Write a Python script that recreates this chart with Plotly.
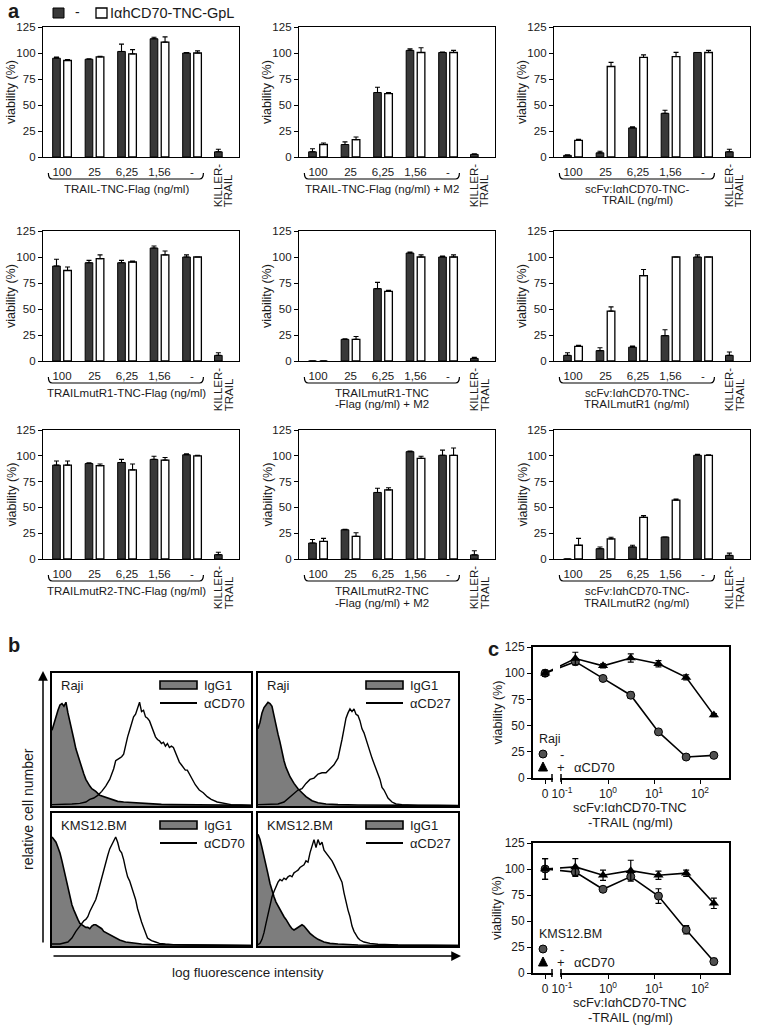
import plotly.graph_objects as go

W, H = 757, 1027
FONT = "Liberation Sans, Arial, Helvetica, sans-serif"
TXT = "#1a1a1a"
DARK = "#383838"
GREY = "#7d7d7d"


def px(x):
    return x / W


def py(y):
    return 1 - y / H


# ---------------- panel a data ----------------
CATS = ["100", "25", "6,25", "1,56", "-"]
Y_TICKS = [0, 25, 50, 75, 100, 125]
KILLER_TEXT = ["KILLER-", "TRAIL"]
LEGEND_A = ["-", "IαhCD70-TNC-GpL"]

R1C1_DARK = [95, 94, 101.5, 113.7, 100]
R1C1_DARK_ERR = [1, 0.5, 7, 1.5, 0.5]
R1C1_WHITE = [92.8, 96.3, 99.2, 110.5, 100]
R1C1_WHITE_ERR = [1, 0.5, 4, 5, 2]
R1C1_KILLER = [5]
R1C1_KILLER_ERR = [2.5]
R1C1_SUB = ["TRAIL-TNC-Flag (ng/ml)"]

R1C2_DARK = [5, 12, 62, 102.5, 100.5]
R1C2_DARK_ERR = [3, 2.5, 5, 1.5, 0.5]
R1C2_WHITE = [12, 16.7, 61, 100.5, 100.5]
R1C2_WHITE_ERR = [1.5, 2.6, 1, 4.5, 2]
R1C2_KILLER = [2.5]
R1C2_KILLER_ERR = [0.5]
R1C2_SUB = ["TRAIL-TNC-Flag (ng/ml) + M2"]

R1C3_DARK = [1.6, 4, 28, 42, 100.5]
R1C3_DARK_ERR = [0.5, 1.5, 1, 3, 0]
R1C3_WHITE = [16, 87, 95.7, 96.6, 100.5]
R1C3_WHITE_ERR = [1, 4, 2.5, 4, 2]
R1C3_KILLER = [5]
R1C3_KILLER_ERR = [2.5]
R1C3_SUB = ["scFv:IαhCD70-TNC-", "TRAIL (ng/ml)"]

R2C1_DARK = [91.3, 94.5, 94.5, 108.6, 100]
R2C1_DARK_ERR = [6.5, 2.3, 2.3, 2, 2]
R2C1_WHITE = [87, 98.4, 95.2, 102, 100]
R2C1_WHITE_ERR = [3.4, 3.6, 0.8, 3.8, 0]
R2C1_KILLER = [5.4]
R2C1_KILLER_ERR = [2.6]
R2C1_SUB = ["TRAILmutR1-TNC-Flag (ng/ml)"]

R2C2_DARK = [0, 20.8, 69.6, 103.8, 100]
R2C2_DARK_ERR = [0, 0.6, 6, 1, 1]
R2C2_WHITE = [0, 20.8, 67, 100, 100]
R2C2_WHITE_ERR = [0, 2.8, 1, 2, 2]
R2C2_KILLER = [2.5]
R2C2_KILLER_ERR = [1]
R2C2_SUB = ["TRAILmutR1-TNC", "-Flag (ng/ml) + M2"]

R2C3_DARK = [5.4, 10, 13.3, 24.4, 100]
R2C3_DARK_ERR = [2.6, 2.7, 1, 5.6, 2]
R2C3_WHITE = [14, 48, 82, 100, 100]
R2C3_WHITE_ERR = [1, 4, 6, 0, 0]
R2C3_KILLER = [5.4]
R2C3_KILLER_ERR = [3.2]
R2C3_SUB = ["scFv:IαhCD70-TNC-", "TRAILmutR1 (ng/ml)"]

R3C1_DARK = [91, 92.5, 93.5, 96.5, 101]
R3C1_DARK_ERR = [4, 0.8, 3, 3, 1]
R3C1_WHITE = [91, 90.5, 86.4, 95.8, 100]
R3C1_WHITE_ERR = [4, 1.5, 5.6, 2.5, 0.5]
R3C1_KILLER = [4.2]
R3C1_KILLER_ERR = [2.3]
R3C1_SUB = ["TRAILmutR2-TNC-Flag (ng/ml)"]

R3C2_DARK = [15.5, 28.3, 64.5, 104, 100.5]
R3C2_DARK_ERR = [3.4, 0.6, 4, 0.5, 5]
R3C2_WHITE = [17, 22, 67, 97.5, 100.5]
R3C2_WHITE_ERR = [3, 3.4, 2, 2, 7]
R3C2_KILLER = [4]
R3C2_KILLER_ERR = [4]
R3C2_SUB = ["TRAILmutR2-TNC", "-Flag (ng/ml) + M2"]

R3C3_DARK = [0, 10, 11.7, 21.3, 100.5]
R3C3_DARK_ERR = [0, 1.7, 1.6, 0, 1]
R3C3_WHITE = [13.3, 19.5, 40.3, 57, 100.5]
R3C3_WHITE_ERR = [6.7, 1.6, 1.7, 1, 0.5]
R3C3_KILLER = [3.5]
R3C3_KILLER_ERR = [2.2]
R3C3_SUB = ["scFv:IαhCD70-TNC-", "TRAILmutR2 (ng/ml)"]

A_PANELS = [
    (R1C1_DARK, R1C1_DARK_ERR, R1C1_WHITE, R1C1_WHITE_ERR, R1C1_KILLER, R1C1_KILLER_ERR, R1C1_SUB),
    (R1C2_DARK, R1C2_DARK_ERR, R1C2_WHITE, R1C2_WHITE_ERR, R1C2_KILLER, R1C2_KILLER_ERR, R1C2_SUB),
    (R1C3_DARK, R1C3_DARK_ERR, R1C3_WHITE, R1C3_WHITE_ERR, R1C3_KILLER, R1C3_KILLER_ERR, R1C3_SUB),
    (R2C1_DARK, R2C1_DARK_ERR, R2C1_WHITE, R2C1_WHITE_ERR, R2C1_KILLER, R2C1_KILLER_ERR, R2C1_SUB),
    (R2C2_DARK, R2C2_DARK_ERR, R2C2_WHITE, R2C2_WHITE_ERR, R2C2_KILLER, R2C2_KILLER_ERR, R2C2_SUB),
    (R2C3_DARK, R2C3_DARK_ERR, R2C3_WHITE, R2C3_WHITE_ERR, R2C3_KILLER, R2C3_KILLER_ERR, R2C3_SUB),
    (R3C1_DARK, R3C1_DARK_ERR, R3C1_WHITE, R3C1_WHITE_ERR, R3C1_KILLER, R3C1_KILLER_ERR, R3C1_SUB),
    (R3C2_DARK, R3C2_DARK_ERR, R3C2_WHITE, R3C2_WHITE_ERR, R3C2_KILLER, R3C2_KILLER_ERR, R3C2_SUB),
    (R3C3_DARK, R3C3_DARK_ERR, R3C3_WHITE, R3C3_WHITE_ERR, R3C3_KILLER, R3C3_KILLER_ERR, R3C3_SUB),
]

# ---------------- panel b data (x: % of log-fluorescence axis, y: % of box height) ----------------
TL_IGG = [(0, 57), (1, 62), (2, 68), (3, 72), (4, 76), (5, 77), (6, 75), (7, 78), (8, 70), (9, 64), (10, 58),
          (11, 50), (12, 43), (13, 38), (14, 33), (15, 28), (16, 24), (17, 20), (18, 17), (19, 15), (20, 13),
          (22, 11), (24, 8), (26, 7), (28, 6), (30, 5), (33, 3.5), (36, 3), (40, 2.5), (45, 2), (50, 1.5),
          (55, 1.2), (60, 1), (70, 0.8), (80, 0.6), (90, 0.5), (100, 0.5)]
TL_CD70 = [(0, 1), (5, 1), (10, 1.5), (14, 2), (17, 3), (19, 5), (21, 6), (23, 8), (25, 11), (27, 15), (29, 20),
           (31, 28), (32, 34), (34, 36), (35, 37), (36, 39), (37, 46), (38, 52), (39, 57), (40, 63), (41, 67),
           (42, 69), (43, 73), (44, 78), (45, 71), (46, 72), (47, 67), (48, 66), (49, 64), (50, 60), (51, 57),
           (52, 52), (53, 50), (54, 49), (55, 47), (56, 48), (57, 45), (58, 47), (59, 44), (60, 45), (61, 44),
           (62, 40), (63, 36), (64, 33), (65, 31), (66, 29), (67, 27), (68, 27), (69, 24), (70, 22), (72, 16),
           (74, 12), (76, 10), (78, 7), (80, 5), (83, 3), (86, 2), (90, 1), (95, 0.7), (100, 0.5)]
TR_IGG = [(0, 58), (1, 63), (2, 70), (3, 74), (4, 76), (5, 78), (6, 77), (7, 75), (8, 68), (9, 60), (10, 54),
          (11, 48), (12, 40), (13, 34), (14, 29), (16, 22), (18, 17), (20, 13), (22, 10), (24, 7), (27, 4),
          (30, 2.5), (34, 1.5), (40, 1), (50, 0.8), (60, 0.6), (80, 0.5), (100, 0.4)]
TR_CD27 = [(0, 1), (5, 1), (10, 1.5), (13, 3), (16, 7), (18, 9), (20, 12), (22, 13), (24, 17), (26, 20), (28, 21),
           (30, 24), (32, 25), (34, 25), (36, 28), (38, 31), (40, 36), (41, 42), (42, 50), (43, 58), (44, 66),
           (45, 70), (46, 73), (47, 71), (48, 73), (49, 69), (50, 68), (51, 64), (52, 58), (53, 55), (54, 50),
           (55, 46), (56, 40), (57, 36), (58, 32), (59, 28), (60, 25), (61, 20), (62, 14), (63, 12), (64, 9),
           (65, 6), (67, 3), (69, 1.5), (72, 1), (76, 0.7), (80, 0.5), (90, 0.4), (100, 0.3)]
BL_IGG = [(0, 82), (1, 80), (2, 78), (3, 74), (4, 70), (5, 64), (6, 57), (7, 50), (8, 44), (9, 37), (10, 31),
          (11, 27), (12, 23), (13, 20), (14, 17), (15, 16), (16, 15), (17, 14), (18, 14), (19, 13), (20, 15),
          (21, 16), (22, 16), (23, 15), (24, 14), (25, 13), (26, 11), (28, 9.5), (30, 8), (32, 6), (34, 4.5),
          (37, 3), (41, 2), (45, 1.5), (50, 1), (60, 0.8), (80, 0.5), (100, 0.4)]
BL_CD70 = [(0, 1.5), (4, 1.5), (8, 3), (10, 6), (12, 11), (14, 15), (16, 19), (17, 20), (18, 22), (19, 26),
           (20, 29), (21, 32), (22, 35), (23, 40), (24, 46), (25, 52), (26, 57), (27, 62), (28, 68), (29, 73),
           (30, 76), (31, 79), (32, 82), (33, 78), (34, 72), (35, 70), (36, 65), (37, 58), (38, 52), (39, 49),
           (40, 44), (41, 40), (42, 35), (43, 28), (44, 22), (45, 18), (46, 14), (47, 10), (48, 6), (49, 5),
           (50, 4), (52, 3), (54, 2), (57, 1.5), (61, 1), (70, 0.7), (80, 0.5), (100, 0.4)]
BR_IGG = [(0, 84), (1, 80), (2, 74), (3, 68), (4, 60), (5, 54), (6, 47), (7, 41), (8, 37), (9, 33), (10, 30),
          (11, 27), (12, 24), (13, 22), (14, 20), (15, 17), (16, 15), (17, 13), (18, 12), (19, 13), (20, 14),
          (21, 15), (22, 16), (23, 15), (24, 13), (25, 11), (26, 9.5), (28, 7), (30, 5), (33, 3), (36, 2),
          (40, 1.5), (45, 1), (50, 0.8), (60, 0.6), (80, 0.5), (100, 0.4)]
BR_CD27 = [(0, 1), (1, 2), (2, 5), (3, 10), (4, 17), (5, 24), (6, 31), (7, 37), (8, 41), (9, 45), (10, 48),
           (11, 50), (12, 49), (13, 51), (14, 50), (15, 52), (16, 53), (17, 52), (18, 55), (19, 56), (20, 57),
           (21, 59), (22, 60), (23, 61), (24, 64), (25, 63), (26, 70), (27, 75), (28, 80), (29, 74), (30, 80),
           (31, 76), (32, 78), (33, 72), (34, 70), (35, 68), (36, 66), (37, 64), (38, 61), (39, 58), (40, 55),
           (41, 52), (42, 48), (43, 40), (44, 32), (45, 27), (46, 22), (47, 15), (48, 11), (49, 8), (50, 6),
           (51, 4.5), (53, 3), (56, 2), (60, 1.3), (70, 0.8), (80, 0.5), (100, 0.4)]
B_PANELS = [
    ("Raji", "αCD70", TL_IGG, TL_CD70),
    ("Raji", "αCD27", TR_IGG, TR_CD27),
    ("KMS12.BM", "αCD70", BL_IGG, BL_CD70),
    ("KMS12.BM", "αCD27", BR_IGG, BR_CD27),
]

# ---------------- panel c data ----------------
C_CONC = [0, 0.195, 0.78, 3.125, 12.5, 50, 200]
ZERO_STAND_IN = 0.043  # where "0" sits on the log axis
C_TICK_VALS = [ZERO_STAND_IN, 0.1, 1, 10, 100]
C_TICK_TEXT = ["0", "10<sup>-1</sup>", "10<sup>0</sup>", "10<sup>1</sup>", "10<sup>2</sup>"]
RAJI_MINUS = [100, 111, 95, 79, 44, 20, 21.6]
RAJI_MINUS_ERR = [2, 2, 1.5, 3, 2, 1, 1]
RAJI_PLUS = [100, 114, 107, 114.5, 109, 96, 60]
RAJI_PLUS_ERR = [3, 6, 2, 4, 3, 2.5, 1.5]
KMS_MINUS = [100, 97, 80.5, 92.7, 74, 41.5, 11]
KMS_MINUS_ERR = [10, 4, 2, 3, 7, 4, 3]
KMS_PLUS = [100, 102, 94, 98.4, 94, 96, 67]
KMS_PLUS_ERR = [10, 8, 5, 10, 4, 3, 5]
C_PANELS = [
    ("Raji", RAJI_MINUS, RAJI_MINUS_ERR, RAJI_PLUS, RAJI_PLUS_ERR),
    ("KMS12.BM", KMS_MINUS, KMS_MINUS_ERR, KMS_PLUS, KMS_PLUS_ERR),
]
C_XTITLE = ["scFv:IαhCD70-TNC", "-TRAIL (ng/ml)"]

# ---------------- build ----------------
fig = go.Figure()
layout = {}
shapes, annos = [], []
n_axes = [0]


def add_axes(x0, x1, y0, y1, xa, ya):
    n_axes[0] += 1
    n = n_axes[0]
    sfx = "" if n == 1 else str(n)
    layout["xaxis" + sfx] = dict(xa, domain=[px(x0), px(x1)], anchor="y" + sfx)
    layout["yaxis" + sfx] = dict(ya, domain=[py(y1), py(y0)], anchor="x" + sfx)
    return "x" + sfx, "y" + sfx


def text(x, y, s, size=12, xanchor="center", yanchor="middle", angle=0, xref="paper", yref="paper", bold=False):
    annos.append(dict(x=x, y=y, xref=xref, yref=yref, text=f"<b>{s}</b>" if bold else s, showarrow=False,
                      xanchor=xanchor, yanchor=yanchor, textangle=angle, borderpad=0,
                      font=dict(family=FONT, size=size, color=TXT)))


def err_up(e):
    return dict(type="data", array=e, arrayminus=[0] * len(e), symmetric=False, color="black",
                thickness=1.1, width=2.5)


def pline(x0, y0, x1, y1, w=1.5):
    shapes.append(dict(type="line", xref="paper", yref="paper", x0=px(x0), y0=py(y0), x1=px(x1), y1=py(y1),
                       line=dict(color="black", width=w), layer="above"))


def prect(x0, y0, x1, y1, fill, w=1.2):
    shapes.append(dict(type="rect", xref="paper", yref="paper", x0=px(x0), y0=py(y1), x1=px(x1), y1=py(y0),
                       fillcolor=fill, line=dict(color="black", width=w), layer="above"))


# ----- panel a -----
COL_L = [43, 299, 554]
COL_W = 196
ROW_T = [27, 231, 430]
ROW_B = [157, 361, 559]
GROUP_POS = [0, 1, 2, 3, 4]
KILLER_POS = 4.81
OFF = 0.17
BAR_W = 0.235
XR_A = [-0.585, 5.445]

for k, (dark, dark_e, white, white_e, kil, kil_e, sub) in enumerate(A_PANELS):
    r, c = divmod(k, 3)
    x0 = COL_L[c]
    x1 = x0 + COL_W
    y0, y1 = ROW_T[r], ROW_B[r]
    xa = dict(range=XR_A, showline=True, mirror=True, linecolor="black", linewidth=1.3, showgrid=False,
              zeroline=False, tickmode="array", tickvals=GROUP_POS, ticktext=CATS, ticks="",
              ticklabelstandoff=4, tickfont=dict(family=FONT, size=11.5, color=TXT))
    ya = dict(range=[0, 125], tickmode="array", tickvals=Y_TICKS, ticks="outside", ticklen=4, tickwidth=1.1,
              tickcolor="black", showline=True, mirror=True, linecolor="black", linewidth=1.3, showgrid=False,
              zeroline=False, tickfont=dict(family=FONT, size=11.5, color=TXT))
    xr, yr = add_axes(x0, x1, y0, y1, xa, ya)
    fig.add_trace(go.Bar(x=[p - OFF for p in GROUP_POS], y=dark, width=BAR_W,
                         marker=dict(color=DARK, line=dict(color="black", width=1)),
                         error_y=err_up(dark_e), xaxis=xr, yaxis=yr))
    fig.add_trace(go.Bar(x=[p + OFF for p in GROUP_POS], y=white, width=BAR_W,
                         marker=dict(color="white", line=dict(color="black", width=1.3)),
                         error_y=err_up(white_e), xaxis=xr, yaxis=yr))
    fig.add_trace(go.Bar(x=[KILLER_POS], y=kil, width=BAR_W,
                         marker=dict(color=DARK, line=dict(color="black", width=1)),
                         error_y=err_up(kil_e), xaxis=xr, yaxis=yr))
    text(px(x0 - 32), py((y0 + y1) / 2), "viability (%)", size=12.5, angle=-90)
    yb, yt = py(y1 + 22), py(y1 + 16)
    xa_, xb_ = -0.42, 4.35
    shapes.append(dict(type="path", xref=xr, yref="paper",
                       path=f"M {xa_},{yt} Q {xa_},{yb} {xa_ + 0.12},{yb} L {xb_ - 0.12},{yb} Q {xb_},{yb} {xb_},{yt}",
                       line=dict(color="black", width=1.2)))
    for i, line in enumerate(sub):
        text(1.97, py(y1 + 32 + 11.5 * i), line, size=11.5, xref=xr)
    text(KILLER_POS, py(y1 + 51), KILLER_TEXT[0], size=11.5, angle=-90, xref=xr, yanchor="bottom")
    text(KILLER_POS + 0.32, py(y1 + 51), KILLER_TEXT[1], size=11.5, angle=-90, xref=xr, yanchor="bottom")

text(px(14), py(11), "a", size=20, bold=True)
prect(53, 8, 64, 18, DARK, 1)
text(px(77), py(12), LEGEND_A[0], size=14)
prect(96, 8, 107, 18, "white", 1.3)
text(px(109), py(13), LEGEND_A[1], size=14.5, xanchor="left")

# ----- panel b -----
B_COLS = [(52, 251), (258, 458)]
B_ROWS = [(673, 806), (813, 946)]
for k, (cell, ab, igg, cd) in enumerate(B_PANELS):
    r, c = divmod(k, 2)
    x0, x1 = B_COLS[c]
    y0, y1 = B_ROWS[r]
    ax = dict(range=[0, 100], showline=True, mirror=True, linecolor="black", linewidth=2.2, showgrid=False,
              zeroline=False, showticklabels=False, ticks="")
    xr, yr = add_axes(x0, x1, y0, y1, ax, dict(ax))
    fig.add_trace(go.Scatter(x=[p[0] for p in igg], y=[p[1] for p in igg], mode="lines", fill="tozeroy",
                             fillcolor=GREY, line=dict(color="black", width=1.6), xaxis=xr, yaxis=yr))
    fig.add_trace(go.Scatter(x=[p[0] for p in cd], y=[p[1] for p in cd], mode="lines",
                             line=dict(color="black", width=1.4), xaxis=xr, yaxis=yr))
    text(px(x0 + 8), py(y0 + 12), cell, size=13, xanchor="left")
    prect(x0 + 108, y0 + 8, x0 + 145, y0 + 16, GREY, 1.6)
    text(px(x0 + 151), py(y0 + 12), "IgG1", size=13, xanchor="left")
    pline(x0 + 108, y0 + 30, x0 + 145, y0 + 30, 2)
    text(px(x0 + 151), py(y0 + 30), ab, size=13, xanchor="left")

text(px(14), py(645), "b", size=20, bold=True)
annos.append(dict(x=px(43), y=py(671), xref="paper", yref="paper", ax=0, ay=273, text="", showarrow=True,
                  arrowhead=2, arrowsize=1.3, arrowwidth=1.5, arrowcolor="black"))
annos.append(dict(x=px(461), y=py(956), xref="paper", yref="paper", ax=-409, ay=0, text="", showarrow=True,
                  arrowhead=2, arrowsize=1.3, arrowwidth=1.5, arrowcolor="black"))
text(px(28), py(809), "relative cell number", size=14, angle=-90)
text(px(248), py(972), "log fluorescence intensity", size=13.5)

# ----- panel c -----
C_ROWS = [(647, 778), (843, 973)]
C_L, C_R = 533, 729
C_X = [ZERO_STAND_IN if v == 0 else v for v in C_CONC]
for k, (cell, mn, mn_e, pl, pl_e) in enumerate(C_PANELS):
    y0, y1 = C_ROWS[k]
    xa = dict(type="log", range=[-1.63, 2.63], tickmode="array", tickvals=C_TICK_VALS, ticktext=C_TICK_TEXT,
              ticks="outside", ticklen=4, tickwidth=1.2, tickcolor="black", showline=True, mirror=True,
              linecolor="black", linewidth=1.8, showgrid=False, zeroline=False,
              tickfont=dict(family=FONT, size=12, color=TXT))
    ya = dict(range=[0, 125], tickmode="array", tickvals=Y_TICKS, ticks="outside", ticklen=4, tickwidth=1.2,
              tickcolor="black", showline=True, mirror=True, linecolor="black", linewidth=1.8, showgrid=False,
              zeroline=False, tickfont=dict(family=FONT, size=12, color=TXT))
    xr, yr = add_axes(C_L, C_R, y0, y1, xa, ya)
    fig.add_trace(go.Scatter(x=C_X, y=mn, mode="lines+markers", line=dict(color="black", width=1.6),
                             marker=dict(symbol="circle", size=8, color="#505050", line=dict(color="black", width=1)),
                             error_y=dict(type="data", array=mn_e, color="black", thickness=1.2, width=3),
                             xaxis=xr, yaxis=yr))
    fig.add_trace(go.Scatter(x=C_X, y=pl, mode="lines+markers", line=dict(color="black", width=1.6),
                             marker=dict(symbol="triangle-up", size=9, color="black"),
                             error_y=dict(type="data", array=pl_e, color="black", thickness=1.2, width=3),
                             xaxis=xr, yaxis=yr))
    text(px(497), py((y0 + y1) / 2), "viability (%)", size=12.5, angle=-90)
    text(px(630), py(y1 + 29), C_XTITLE[0], size=13)
    text(px(630), py(y1 + 44), C_XTITLE[1], size=13)
    text(px(538), py(y1 - 39), cell, size=12.5, xanchor="left")
    # legend symbols (circle / triangle) as shapes
    cy = y1 - 24
    shapes.append(dict(type="circle", xref="paper", yref="paper", x0=px(539), x1=px(547), y0=py(cy + 4),
                       y1=py(cy - 4), fillcolor="#505050", line=dict(color="black", width=1), layer="above"))
    text(px(562), py(y1 - 24), "-", size=13)
    ty = y1 - 11
    shapes.append(dict(type="path", xref="paper", yref="paper",
                       path=f"M {px(538.5)},{py(ty + 4)} L {px(547.5)},{py(ty + 4)} L {px(543)},{py(ty - 5)} Z",
                       fillcolor="black", line=dict(color="black", width=1), layer="above"))
    text(px(561), py(y1 - 11), "+", size=13)
    text(px(573), py(y1 - 11), "αCD70", size=13, xanchor="left")
    # axis break
    shapes.append(dict(type="rect", xref="paper", yref="paper", x0=px(553), x1=px(560), y0=py(y1 + 2),
                       y1=py(y0 + 3), fillcolor="white", line=dict(width=0), layer="above"))
    pline(552, y1 - 4, 552, y1 + 4, 1.5)
    pline(561, y1 - 4, 561, y1 + 4, 1.5)

text(px(493), py(649), "c", size=20, bold=True)

layout.update(width=W, height=H, margin=dict(l=0, r=0, t=0, b=0, pad=0), paper_bgcolor="white",
              plot_bgcolor="white", showlegend=False, barmode="overlay", template="none", hovermode=False,
              font=dict(family=FONT, size=12, color=TXT), shapes=shapes, annotations=annos)
fig.update_layout(**layout)

fig.write_html("out.html", include_plotlyjs=True, config={"displayModeBar": False},
               post_script="document.body.style.margin='0';document.body.style.padding='0';")
